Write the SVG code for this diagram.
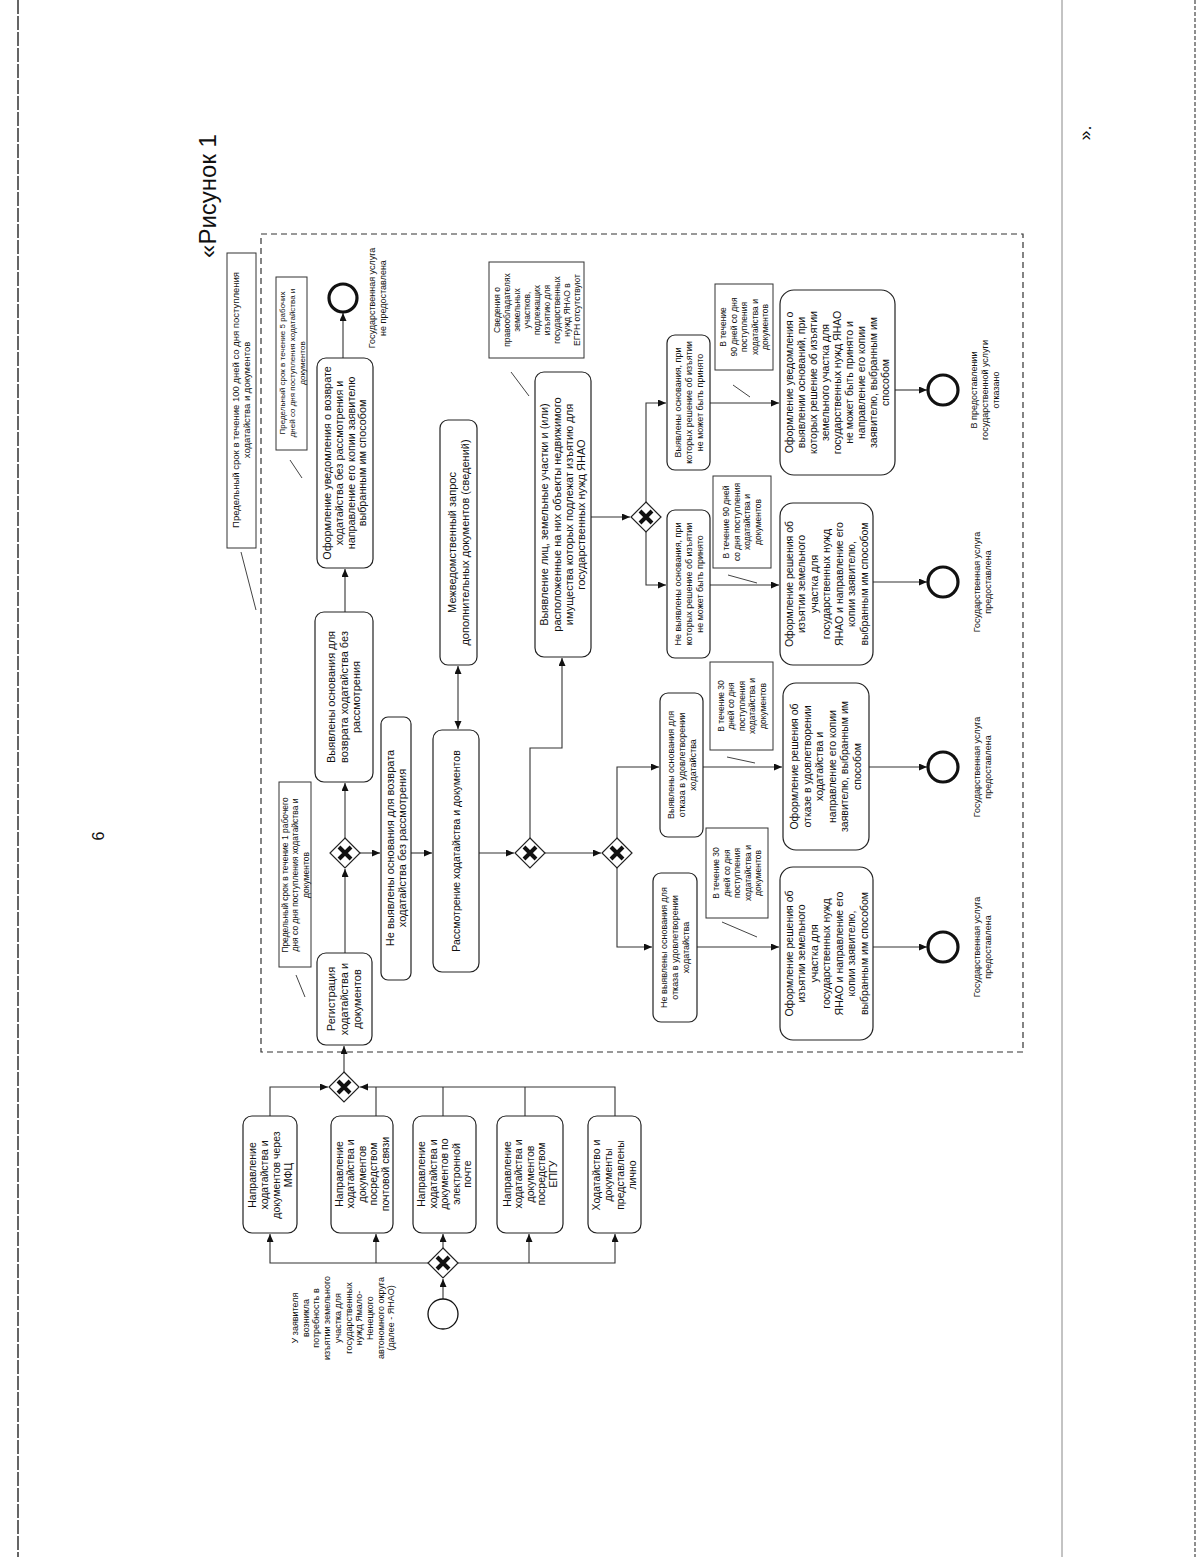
<svg xmlns="http://www.w3.org/2000/svg" xmlns:xlink="http://www.w3.org/1999/xlink" width="1200" height="1557" viewBox="0 0 1200 1557">
<style>
.t{font-family:"Liberation Sans",Arial,sans-serif;fill:#111;text-anchor:middle}
.f24{font-size:24px}.f16{font-size:16px}.f11{font-size:11px}.f105{font-size:10.5px}.f10{font-size:10px}.f9{font-size:9px}.f85{font-size:8.5px}.f8{font-size:8px}
.box{fill:#fff;stroke:#222;stroke-width:1.2}
.ann{fill:#fff;stroke:#333;stroke-width:1}
.gw{fill:#fff;stroke:#222;stroke-width:1.2}
.gwx{stroke:#111;stroke-width:4;fill:none}
.ev{fill:#fff;stroke:#111;stroke-width:1.3}
.end{fill:#fff;stroke:#111;stroke-width:3.2}
.ln{fill:none;stroke:#333;stroke-width:1.1}
.arr{fill:none;stroke:#333;stroke-width:1.1;marker-end:url(#ah)}
.dbl{fill:none;stroke:#333;stroke-width:1.1;marker-end:url(#ah);marker-start:url(#ahs)}
.as{fill:none;stroke:#444;stroke-width:1}
.pool{fill:none;stroke:#333;stroke-width:1.2;stroke-dasharray:6 4}
</style>
<defs>
<marker id="ah" markerUnits="userSpaceOnUse" markerWidth="9" markerHeight="8" refX="8" refY="3.5" orient="auto"><path d="M0,0 L8,3.5 L0,7 Z" fill="#111"/></marker>
<marker id="ahs" markerUnits="userSpaceOnUse" markerWidth="9" markerHeight="8" refX="8" refY="3.5" orient="auto-start-reverse"><path d="M0,0 L8,3.5 L0,7 Z" fill="#111"/></marker>
<g id="gwShape"><path class="gw" d="M0,-15 L15,0 L0,15 L-15,0 Z"/><path class="gwx" d="M-6,-6 L6,6 M6,-6 L-6,6"/></g>
</defs>
<rect x="0" y="0" width="1200" height="1557" fill="#fff"/>
<g id="page">
<line x1="18" y1="0" x2="18" y2="1557" stroke="#333" stroke-width="1.5" stroke-dasharray="14 2"/>
<line x1="1062" y1="0" x2="1062" y2="1557" stroke="#888" stroke-width="1"/>
<line x1="1195" y1="0" x2="1195" y2="1557" stroke="#444" stroke-width="1.2" stroke-dasharray="4 2"/>
<g transform="translate(216,196) rotate(-90)"><text class="t f24">«Рисунок 1</text></g>
<g transform="translate(104,836) rotate(-90)"><text class="t f16">6</text></g>
<g transform="translate(1091,133) rotate(-90)"><text class="t" style="font-size:18px">».</text></g>
</g>
<rect id="pool" class="pool" x="261" y="234" width="762" height="818"/>

<g id="connectors">
<path class="arr" d="M443,1299 V1279"/>
<path class="arr" d="M428,1263 H270 V1234"/>
<path class="arr" d="M376,1263 V1234"/>
<path class="arr" d="M443,1248 V1234"/>
<path class="arr" d="M458,1263 H615 V1234"/>
<path class="arr" d="M529,1263 V1234"/>
<path class="arr" d="M270,1116 V1087 H328"/>
<path class="arr" d="M615,1116 V1087 H360"/>
<path class="ln" d="M376,1116 V1087"/>
<path class="ln" d="M443,1116 V1087"/>
<path class="ln" d="M525,1116 V1087"/>
<path class="arr" d="M344,1072 V1046"/>
<path class="arr" d="M345,953 V869"/>
<path class="arr" d="M345,838 V783"/>
<path class="arr" d="M360,853 H380"/>
<path class="arr" d="M411,853 H432"/>
<path class="arr" d="M345,612 V569"/>
<path class="arr" d="M343,358 V313"/>
<path class="dbl" d="M458,666 V729"/>
<path class="arr" d="M479,853 H514"/>
<path class="arr" d="M530,838 V748 H562 V658"/>
<path class="arr" d="M545,853 H601"/>
<path class="arr" d="M617,838 V767 H659"/>
<path class="arr" d="M617,868 V947 H652"/>
<path class="arr" d="M591,517 H630"/>
<path class="arr" d="M646,502 V403 H666"/>
<path class="arr" d="M646,532 V585 H666"/>
<path class="arr" d="M710,403 H779"/>
<path class="arr" d="M710,585 H779"/>
<path class="arr" d="M703,767 H782"/>
<path class="arr" d="M697,947 H779"/>
<path class="arr" d="M895,390 H927"/>
<path class="arr" d="M873,582 H927"/>
<path class="arr" d="M869,767 H927"/>
<path class="arr" d="M873,947 H927"/>
<path class="as" d="M241,552 L256,610"/>
<path class="as" d="M290,460 L302,478"/>
<path class="as" d="M296,975 L305,997"/>
<path class="as" d="M511,372 L529,396"/>
<path class="as" d="M733,385 L750,397"/>
<path class="as" d="M728,575 L757,583"/>
<path class="as" d="M727,757 L755,763"/>
<path class="as" d="M722,922 L757,937"/>
</g>

<g id="start">
<circle class="ev" cx="443" cy="1314" r="15"/>
<g transform="translate(343,1318) rotate(-90)"><text class="t f9" y="-45"><tspan x="0">У заявителя</tspan><tspan x="0" dy="10.7">возникла</tspan><tspan x="0" dy="10.7">потребность в</tspan><tspan x="0" dy="10.7">изъятии земельного</tspan><tspan x="0" dy="10.7">участка для</tspan><tspan x="0" dy="10.7">государственных</tspan><tspan x="0" dy="10.7">нужд Ямало-</tspan><tspan x="0" dy="10.7">Ненецкого</tspan><tspan x="0" dy="10.7">автономного округа</tspan><tspan x="0" dy="10.7">(далее - ЯНАО)</tspan></text></g>
</g>
<g id="gw-split"><use xlink:href="#gwShape" href="#gwShape" x="443" y="1263"/></g>
<g id="gw-merge"><use xlink:href="#gwShape" href="#gwShape" x="344" y="1087"/></g>
<g id="gw-reg"><use xlink:href="#gwShape" href="#gwShape" x="345" y="853"/></g>
<g id="gw-1"><use xlink:href="#gwShape" href="#gwShape" x="530" y="853"/></g>
<g id="gw-2"><use xlink:href="#gwShape" href="#gwShape" x="617" y="853"/></g>
<g id="gw-3"><use xlink:href="#gwShape" href="#gwShape" x="646" y="517"/></g>

<g id="box-mfc"><rect class="box" x="243" y="1116" width="54" height="117" rx="9"/>
<g transform="translate(270,1175) rotate(-90)"><text class="t f105" y="-14.3"><tspan x="0">Направление</tspan><tspan x="0" dy="12">ходатайства и</tspan><tspan x="0" dy="12">документов через</tspan><tspan x="0" dy="12">МФЦ</tspan></text></g></g>
<g id="box-post"><rect class="box" x="331" y="1116" width="62" height="117" rx="9"/>
<g transform="translate(362,1174) rotate(-90)"><text class="t f105" y="-19.3"><tspan x="0">Направление</tspan><tspan x="0" dy="11.5">ходатайства и</tspan><tspan x="0" dy="11.5">документов</tspan><tspan x="0" dy="11.5">посредством</tspan><tspan x="0" dy="11.5">почтовой связи</tspan></text></g></g>
<g id="box-email"><rect class="box" x="413" y="1116" width="63" height="117" rx="9"/>
<g transform="translate(444.5,1174) rotate(-90)"><text class="t f105" y="-19.3"><tspan x="0">Направление</tspan><tspan x="0" dy="11.5">ходатайства и</tspan><tspan x="0" dy="11.5">документов по</tspan><tspan x="0" dy="11.5">электронной</tspan><tspan x="0" dy="11.5">почте</tspan></text></g></g>
<g id="box-epgu"><rect class="box" x="497" y="1116" width="66" height="117" rx="9"/>
<g transform="translate(530,1174) rotate(-90)"><text class="t f105" y="-19.3"><tspan x="0">Направление</tspan><tspan x="0" dy="11.5">ходатайства и</tspan><tspan x="0" dy="11.5">документов</tspan><tspan x="0" dy="11.5">посредством</tspan><tspan x="0" dy="11.5">ЕПГУ</tspan></text></g></g>
<g id="box-personal"><rect class="box" x="588" y="1116" width="53" height="117" rx="9"/>
<g transform="translate(614.5,1175) rotate(-90)"><text class="t f105" y="-14.3"><tspan x="0">Ходатайство и</tspan><tspan x="0" dy="12">документы</tspan><tspan x="0" dy="12">представлены</tspan><tspan x="0" dy="12">лично</tspan></text></g></g>

<g id="box-reg"><rect class="box" x="317" y="953" width="55" height="92" rx="9"/>
<g transform="translate(344.5,999) rotate(-90)"><text class="t f11" y="-9.15"><tspan x="0">Регистрация</tspan><tspan x="0" dy="13">ходатайства и</tspan><tspan x="0" dy="13">документов</tspan></text></g></g>
<g id="ann-1day"><rect class="ann" x="279" y="782" width="32" height="185"/>
<g transform="translate(295,875) rotate(-90)"><text class="t f85" y="-7.5"><tspan x="0">Предельный срок в течение 1 рабочего</tspan><tspan x="0" dy="10.5">дня со дня поступления ходатайства и</tspan><tspan x="0" dy="10.5">документов</tspan></text></g></g>
<g id="box-return-found"><rect class="box" x="315" y="612" width="58" height="170" rx="9"/>
<g transform="translate(344,697) rotate(-90)"><text class="t f11" y="-8.65"><tspan x="0">Выявлены основания для</tspan><tspan x="0" dy="12.5">возврата ходатайства без</tspan><tspan x="0" dy="12.5">рассмотрения</tspan></text></g></g>
<g id="box-return-notice"><rect class="box" x="317" y="358" width="56" height="210" rx="9"/>
<g transform="translate(345,463) rotate(-90)"><text class="t" style="font-size:10.8px" y="-13.75"><tspan x="0">Оформление уведомления о возврате</tspan><tspan x="0" dy="11.7">ходатайства без рассмотрения и</tspan><tspan x="0" dy="11.7">направление его копии заявителю</tspan><tspan x="0" dy="11.7">выбранным им способом</tspan></text></g></g>
<g id="end-0"><circle class="end" cx="343" cy="298" r="14"/>
<g transform="translate(377.5,298) rotate(-90)"><text class="t f9" y="-2.35"><tspan x="0">Государственная услуга</tspan><tspan x="0" dy="11">не предоставлена</tspan></text></g></g>
<g id="ann-5days"><rect class="ann" x="276" y="277" width="31" height="173"/>
<g transform="translate(292,363) rotate(-90)"><text class="t f8" y="-7.5"><tspan x="0">Предельный срок в течение 5 рабочих</tspan><tspan x="0" dy="10.3">дней со дня поступления ходатайства и</tspan><tspan x="0" dy="10.3">документов</tspan></text></g></g>
<g id="ann-100days"><rect class="ann" x="227" y="253" width="29" height="295"/>
<g transform="translate(241.5,400) rotate(-90)"><text class="t" style="font-size:9.5px" y="-2.2"><tspan x="0">Предельный срок в течение 100 дней со дня поступления</tspan><tspan x="0" dy="11">ходатайства и документов</tspan></text></g></g>
<g id="box-return-notfound"><rect class="box" x="381" y="717" width="30" height="263" rx="7"/>
<g transform="translate(396,848) rotate(-90)"><text class="t f11" y="-2.15"><tspan x="0">Не выявлены основания для возврата</tspan><tspan x="0" dy="12">ходатайства без рассмотрения</tspan></text></g></g>
<g id="box-review"><rect class="box" x="433" y="730" width="46" height="242" rx="9"/>
<g transform="translate(456,851) rotate(-90)"><text class="t f105" y="3.7">Рассмотрение ходатайства и документов</text></g></g>
<g id="box-request"><rect class="box" x="440" y="420" width="37" height="245" rx="8"/>
<g transform="translate(458.5,542.5) rotate(-90)"><text class="t f11" y="-2.9"><tspan x="0">Межведомственный запрос</tspan><tspan x="0" dy="13.5">дополнительных документов (сведений)</tspan></text></g></g>
<g id="box-identify"><rect class="box" x="535" y="372" width="56" height="285" rx="9"/>
<g transform="translate(563,514.5) rotate(-90)"><text class="t f11" y="-14.6"><tspan x="0">Выявление лиц, земельные участки и (или)</tspan><tspan x="0" dy="12.3">расположенные на них объекты недвижимого</tspan><tspan x="0" dy="12.3">имущества которых подлежат изъятию для</tspan><tspan x="0" dy="12.3">государственных нужд ЯНАО</tspan></text></g></g>
<g id="ann-egrn"><rect class="ann" x="489" y="262" width="95" height="96"/>
<g transform="translate(536.5,310) rotate(-90)"><text class="t f85" y="-37"><tspan x="0">Сведения о</tspan><tspan x="0" dy="10">правообладателях</tspan><tspan x="0" dy="10">земельных</tspan><tspan x="0" dy="10">участков,</tspan><tspan x="0" dy="10">подлежащих</tspan><tspan x="0" dy="10">изъятию для</tspan><tspan x="0" dy="10">государственных</tspan><tspan x="0" dy="10">нужд ЯНАО в</tspan><tspan x="0" dy="10">ЕГРН отсутствуют</tspan></text></g></g>

<g id="box-cannot"><rect class="box" x="667" y="335" width="43" height="135" rx="8"/>
<g transform="translate(688.5,402.5) rotate(-90)"><text class="t f9" y="-7.85"><tspan x="0">Выявлены основания, при</tspan><tspan x="0" dy="11">которых решение об изъятии</tspan><tspan x="0" dy="11">не может быть принято</tspan></text></g></g>
<g id="box-can"><rect class="box" x="667" y="510" width="43" height="148" rx="8"/>
<g transform="translate(688.5,584) rotate(-90)"><text class="t f9" y="-7.85"><tspan x="0">Не выявлены основания, при</tspan><tspan x="0" dy="11">которых решение об изъятии</tspan><tspan x="0" dy="11">не может быть принято</tspan></text></g></g>
<g id="ann-90a"><rect class="ann" x="715" y="284" width="58" height="86"/>
<g transform="translate(744,327) rotate(-90)"><text class="t f85" y="-18"><tspan x="0">В течение</tspan><tspan x="0" dy="10.5">90 дней со дня</tspan><tspan x="0" dy="10.5">поступления</tspan><tspan x="0" dy="10.5">ходатайства и</tspan><tspan x="0" dy="10.5">документов</tspan></text></g></g>
<g id="ann-90b"><rect class="ann" x="713" y="476" width="58" height="92"/>
<g transform="translate(742,522) rotate(-90)"><text class="t f85" y="-12.75"><tspan x="0">В течение 90 дней</tspan><tspan x="0" dy="10.5">со дня поступления</tspan><tspan x="0" dy="10.5">ходатайства и</tspan><tspan x="0" dy="10.5">документов</tspan></text></g></g>
<g id="box-notice-cannot"><rect class="box" x="780" y="290" width="115" height="185" rx="14"/>
<g transform="translate(837.5,382.5) rotate(-90)"><text class="t f105" y="-44.3"><tspan x="0">Оформление уведомления о</tspan><tspan x="0" dy="12">выявлении оснований, при</tspan><tspan x="0" dy="12">которых решение об изъятии</tspan><tspan x="0" dy="12">земельного участка для</tspan><tspan x="0" dy="12">государственных нужд ЯНАО</tspan><tspan x="0" dy="12">не может быть принято и</tspan><tspan x="0" dy="12">направление его копии</tspan><tspan x="0" dy="12">заявителю, выбранным им</tspan><tspan x="0" dy="12">способом</tspan></text></g></g>
<g id="box-decision-a"><rect class="box" x="780" y="503" width="93" height="162" rx="13"/>
<g transform="translate(826.5,584) rotate(-90)"><text class="t f105" y="-33.8"><tspan x="0">Оформление решения об</tspan><tspan x="0" dy="12.5">изъятии земельного</tspan><tspan x="0" dy="12.5">участка для</tspan><tspan x="0" dy="12.5">государственных нужд</tspan><tspan x="0" dy="12.5">ЯНАО и направление его</tspan><tspan x="0" dy="12.5">копии заявителю,</tspan><tspan x="0" dy="12.5">выбранным им способом</tspan></text></g></g>

<g id="box-refuse-found"><rect class="box" x="660" y="693" width="43" height="144" rx="8"/>
<g transform="translate(681.5,765) rotate(-90)"><text class="t f9" y="-7.85"><tspan x="0">Выявлены основания для</tspan><tspan x="0" dy="11">отказа в удовлетворении</tspan><tspan x="0" dy="11">ходатайства</tspan></text></g></g>
<g id="box-refuse-notfound"><rect class="box" x="653" y="873" width="44" height="149" rx="8"/>
<g transform="translate(675,947.5) rotate(-90)"><text class="t f9" y="-7.85"><tspan x="0">Не выявлены основания для</tspan><tspan x="0" dy="11">отказа в удовлетворении</tspan><tspan x="0" dy="11">ходатайства</tspan></text></g></g>
<g id="ann-30a"><rect class="ann" x="710" y="662" width="63" height="88"/>
<g transform="translate(741.5,706) rotate(-90)"><text class="t f85" y="-18"><tspan x="0">В течение 30</tspan><tspan x="0" dy="10.5">дней со дня</tspan><tspan x="0" dy="10.5">поступления</tspan><tspan x="0" dy="10.5">ходатайства и</tspan><tspan x="0" dy="10.5">документов</tspan></text></g></g>
<g id="ann-30b"><rect class="ann" x="706" y="828" width="62" height="90"/>
<g transform="translate(737,873) rotate(-90)"><text class="t f85" y="-18"><tspan x="0">В течение 30</tspan><tspan x="0" dy="10.5">дней со дня</tspan><tspan x="0" dy="10.5">поступления</tspan><tspan x="0" dy="10.5">ходатайства и</tspan><tspan x="0" dy="10.5">документов</tspan></text></g></g>
<g id="box-refuse-decision"><rect class="box" x="783" y="683" width="86" height="167" rx="13"/>
<g transform="translate(826,766.5) rotate(-90)"><text class="t f105" y="-27.55"><tspan x="0">Оформление решения об</tspan><tspan x="0" dy="12.5">отказе в удовлетворении</tspan><tspan x="0" dy="12.5">ходатайства и</tspan><tspan x="0" dy="12.5">направление его копии</tspan><tspan x="0" dy="12.5">заявителю, выбранным им</tspan><tspan x="0" dy="12.5">способом</tspan></text></g></g>
<g id="box-decision-b"><rect class="box" x="780" y="867" width="93" height="173" rx="13"/>
<g transform="translate(826.5,953.5) rotate(-90)"><text class="t f105" y="-33.8"><tspan x="0">Оформление решения об</tspan><tspan x="0" dy="12.5">изъятии земельного</tspan><tspan x="0" dy="12.5">участка для</tspan><tspan x="0" dy="12.5">государственных нужд</tspan><tspan x="0" dy="12.5">ЯНАО и направление его</tspan><tspan x="0" dy="12.5">копии заявителю,</tspan><tspan x="0" dy="12.5">выбранным им способом</tspan></text></g></g>

<g id="end-1"><circle class="end" cx="943" cy="390" r="15"/>
<g transform="translate(985,390) rotate(-90)"><text class="t f9" y="-7.85"><tspan x="0">В предоставлении</tspan><tspan x="0" dy="11">государственной услуги</tspan><tspan x="0" dy="11">отказано</tspan></text></g></g>
<g id="end-2"><circle class="end" cx="943" cy="582" r="15"/>
<g transform="translate(982.5,582) rotate(-90)"><text class="t f9" y="-2.35"><tspan x="0">Государственная услуга</tspan><tspan x="0" dy="11">предоставлена</tspan></text></g></g>
<g id="end-3"><circle class="end" cx="943" cy="767" r="15"/>
<g transform="translate(982.5,767) rotate(-90)"><text class="t f9" y="-2.35"><tspan x="0">Государственная услуга</tspan><tspan x="0" dy="11">предоставлена</tspan></text></g></g>
<g id="end-4"><circle class="end" cx="943" cy="947" r="15"/>
<g transform="translate(982.5,947) rotate(-90)"><text class="t f9" y="-2.35"><tspan x="0">Государственная услуга</tspan><tspan x="0" dy="11">предоставлена</tspan></text></g></g>
</svg>
